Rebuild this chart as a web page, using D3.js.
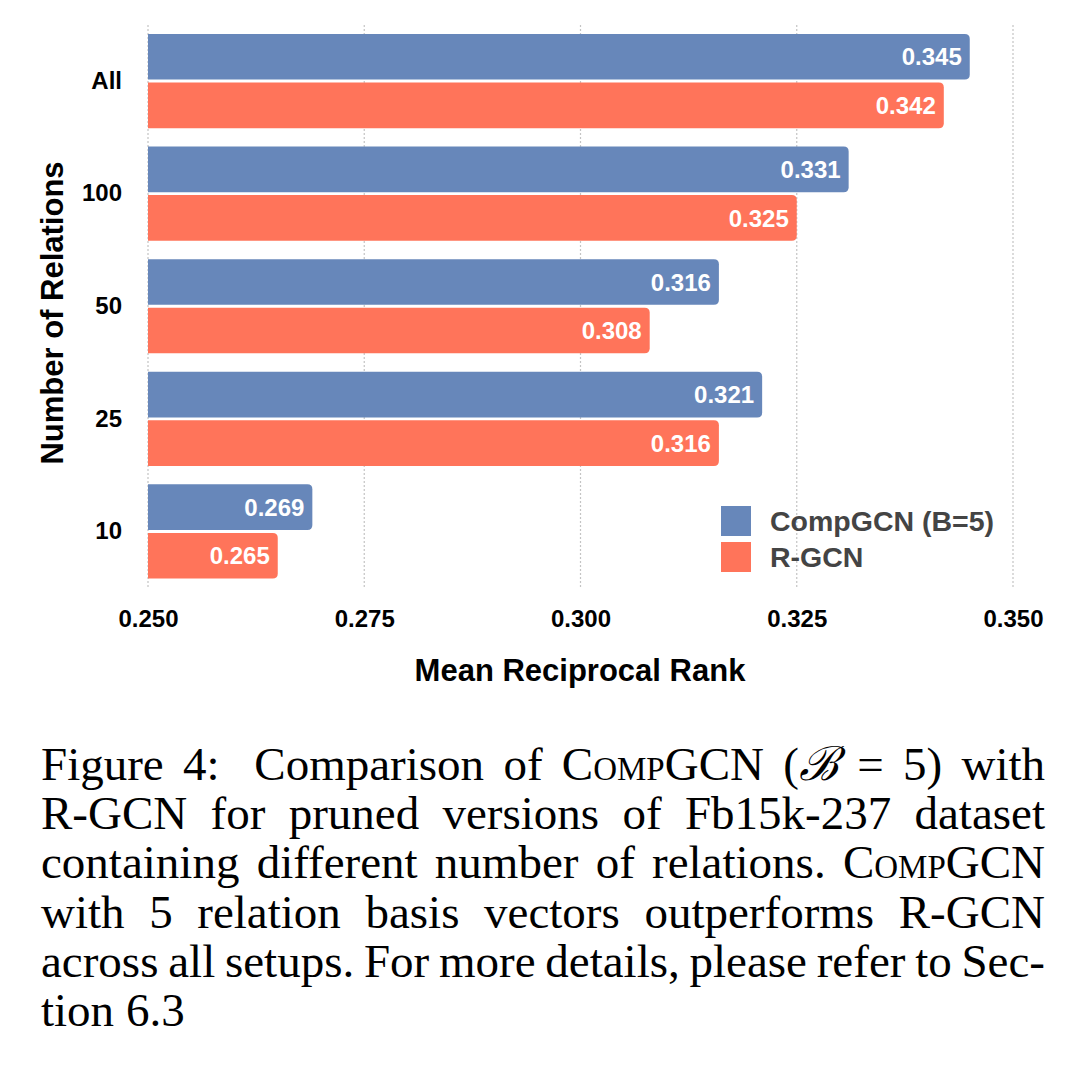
<!DOCTYPE html>
<html>
<head>
<meta charset="utf-8">
<script src="https://cdn.jsdelivr.net/npm/d3@7"></script>
<style>
  html, body { margin: 0; padding: 0; background: #fff; }
  svg { display: block; }
</style>
</head>
<body>
<div id="chart"></div>
<script>
// Chart values
const categories = ['All', '100', '50', '25', '10'];
const compgcnValues = [0.345, 0.331, 0.316, 0.321, 0.269];
const rgcnValues = [0.342, 0.325, 0.308, 0.316, 0.265];
const seriesNames = ['CompGCN (B=5)', 'R-GCN'];
const seriesColors = ['#6787ba', '#ff745a'];
const xTicks = [0.250, 0.275, 0.300, 0.325, 0.350];
const xLabel = 'Mean Reciprocal Rank';
const yLabel = 'Number of Relations';

// Caption, one entry per printed line. [..] = small caps, <..> = italic
const captionLines = [
  'Figure 4:  Comparison of [CompGCN] (<ℬ> = 5) with',
  'R-GCN for pruned versions of Fb15k-237 dataset',
  'containing different number of relations. [CompGCN]',
  'with 5 relation basis vectors outperforms R-GCN',
  'across all setups. For more details, please refer to Sec-',
  'tion 6.3'
];

const width = 1080, height = 1072;
const sans = "'Liberation Sans', Arial, Helvetica, sans-serif";
const serif = "'Liberation Serif', 'Times New Roman', serif";

const svg = d3.select('#chart').append('svg')
  .attr('width', width)
  .attr('height', height);

// Scales
const x = d3.scaleLinear().domain([0.25, 0.35]).range([148, 1013]);
const plotTop = 25, plotBottom = 587.5;

const y = d3.scaleBand()
  .domain(categories)
  .range([plotTop, plotBottom])
  .paddingInner(0.164)
  .paddingOuter(0.08);

const ySub = d3.scaleBand()
  .domain(seriesNames)
  .range([0, y.bandwidth()])
  .paddingInner(0.06);

// Dotted gridlines
svg.append('g')
  .selectAll('line')
  .data(xTicks)
  .enter()
  .append('line')
  .attr('x1', d => x(d)).attr('x2', d => x(d))
  .attr('y1', plotTop).attr('y2', plotBottom)
  .attr('stroke', '#c4c4c4')
  .attr('stroke-width', 1.2)
  .attr('stroke-dasharray', '2,2');

// Bar shape: square left edge, rounded right edge
function barPath(x0, y0, w, h, r) {
  r = Math.min(r, w, h / 2);
  return `M${x0},${y0} H${x0 + w - r} Q${x0 + w},${y0} ${x0 + w},${y0 + r} ` +
    `V${y0 + h - r} Q${x0 + w},${y0 + h} ${x0 + w - r},${y0 + h} H${x0} Z`;
}

const rows = categories.map((c, i) => ({
  cat: c,
  vals: [
    { s: seriesNames[0], v: compgcnValues[i], color: seriesColors[0] },
    { s: seriesNames[1], v: rgcnValues[i], color: seriesColors[1] }
  ]
}));

const groups = svg.append('g')
  .selectAll('g')
  .data(rows)
  .enter()
  .append('g')
  .attr('transform', d => `translate(0,${y(d.cat)})`);

groups.selectAll('path')
  .data(d => d.vals)
  .enter()
  .append('path')
  .attr('fill', d => d.color)
  .attr('d', d => barPath(x(0.25), ySub(d.s), x(d.v) - x(0.25), ySub.bandwidth(), 5));

groups.selectAll('text')
  .data(d => d.vals)
  .enter()
  .append('text')
  .attr('x', d => x(d.v) - 8)
  .attr('y', d => ySub(d.s) + ySub.bandwidth() / 2)
  .attr('dy', '0.36em')
  .attr('text-anchor', 'end')
  .attr('font-family', sans)
  .attr('font-weight', 'bold')
  .attr('font-size', 24)
  .attr('fill', '#fff')
  .text(d => d.v.toFixed(3));

// Y axis (labels only)
const yAxis = d3.axisLeft(y).tickSize(0).tickPadding(0);
const yG = svg.append('g').attr('transform', 'translate(122,0)').call(yAxis);
yG.select('.domain').remove();
yG.selectAll('text')
  .attr('font-family', sans)
  .attr('font-weight', 'bold')
  .attr('font-size', 24)
  .attr('fill', '#000');

// X axis (labels only)
const xAxis = d3.axisBottom(x).tickValues(xTicks).tickFormat(d3.format('.3f')).tickSize(0).tickPadding(0);
const xG = svg.append('g').attr('transform', 'translate(0,610)').call(xAxis);
xG.select('.domain').remove();
xG.selectAll('text')
  .attr('dy', '0.72em')
  .attr('font-family', sans)
  .attr('font-weight', 'bold')
  .attr('font-size', 24)
  .attr('fill', '#000');

// Axis titles
svg.append('text')
  .attr('x', 580).attr('y', 681)
  .attr('text-anchor', 'middle')
  .attr('font-family', sans)
  .attr('font-weight', 'bold')
  .attr('font-size', 31)
  .attr('fill', '#000')
  .text(xLabel);

svg.append('text')
  .attr('transform', 'translate(63,313) rotate(-90)')
  .attr('text-anchor', 'middle')
  .attr('font-family', sans)
  .attr('font-weight', 'bold')
  .attr('font-size', 31)
  .attr('fill', '#000')
  .text(yLabel);

// Legend
const legend = svg.append('g').attr('transform', 'translate(721,506)');
const legendItems = legend.selectAll('g')
  .data(seriesNames)
  .enter()
  .append('g')
  .attr('transform', (d, i) => `translate(0,${i * 36})`);
legendItems.append('rect')
  .attr('width', 30).attr('height', 30)
  .attr('fill', (d, i) => seriesColors[i]);
legendItems.append('text')
  .attr('x', 49).attr('y', 15)
  .attr('dy', '0.36em')
  .attr('font-family', sans)
  .attr('font-weight', 'bold')
  .attr('font-size', 28.5)
  .attr('fill', '#444')
  .text(d => d);

// Caption, justified line by line
const capFont = 47;
const capLeft = 41, capRight = 1045, capBase = 780, capLead = 49.2;
const caption = svg.append('g')
  .attr('font-family', serif)
  .attr('font-size', capFont)
  .attr('fill', '#000');

function addWord(word, yPos) {
  const t = caption.append('text').attr('y', yPos);
  const re = /\[([^\]]+)\]|<([^>]+)>|([^\[<]+)/g;
  let m;
  while ((m = re.exec(word)) !== null) {
    const span = t.append('tspan');
    if (m[1]) span.style('font-variant', 'small-caps').text(m[1]);
    else if (m[2]) span.style('font-style', 'italic').text(m[2]);
    else span.text(m[3]);
  }
  return t;
}

captionLines.forEach((line, i) => {
  const yPos = capBase + i * capLead;
  const words = line.split(' ');
  // empty pieces come from double spaces: they widen the gap before the next word
  const pieces = [];
  let weight = 0;
  words.forEach(w => {
    if (w === '') { weight += 0.8; return; }
    pieces.push({ w, weight: pieces.length ? weight + 1 : 0 });
    weight = 0;
  });
  const els = pieces.map(p => addWord(p.w, yPos));
  const widths = els.map(t => t.node().getComputedTextLength());
  const total = d3.sum(widths);
  const totalWeight = d3.sum(pieces, p => p.weight);
  const last = i === captionLines.length - 1;
  const unit = last ? capFont * 0.25 : (capRight - capLeft - total) / totalWeight;
  let cx = capLeft;
  els.forEach((t, k) => {
    cx += pieces[k].weight * unit;
    t.attr('x', cx);
    cx += widths[k];
  });
});
</script>
</body>
</html>
